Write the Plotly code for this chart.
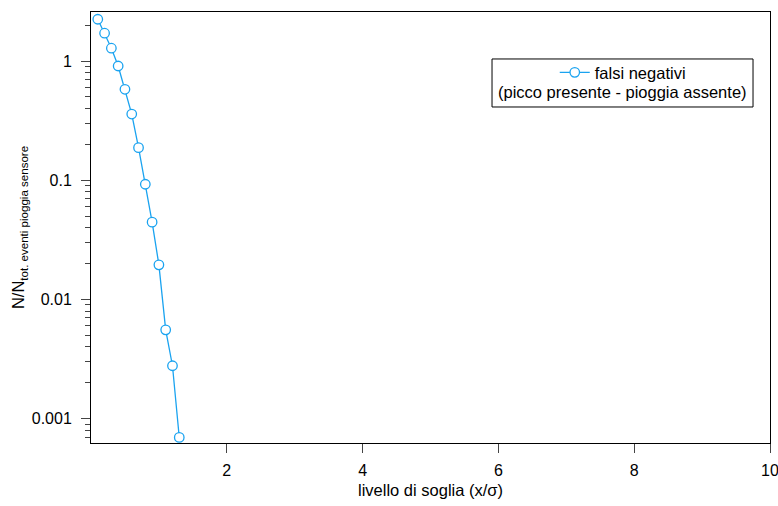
import plotly.graph_objects as go

soglia = [0.1, 0.2, 0.3, 0.4, 0.5, 0.6, 0.7, 0.8, 0.9, 1.0, 1.1, 1.2, 1.3]
falsi_negativi = [2.24, 1.71, 1.28, 0.908, 0.579, 0.359, 0.1876, 0.0925, 0.0445, 0.0195, 0.00556, 0.00278, 0.000696]

y_tickvals = [0.001, 0.01, 0.1, 1]
y_ticktext = ["0.001", "0.01", "0.1", "1"]
x_tickvals = [2, 4, 6, 8, 10]

minor_vals = [k * 10.0 ** e for e in range(-4, 1) for k in range(2, 10)]

blue = "#1aa3f0"
FONT = "Liberation Sans, Arial, sans-serif"

fig = go.Figure()
fig.add_trace(go.Scatter(
    x=soglia, y=falsi_negativi, mode="lines+markers",
    name="falsi negativi",
    line=dict(color=blue, width=1.3),
    marker=dict(symbol="circle", size=9.5, color="white", line=dict(color=blue, width=1.3)),
))

fig.update_layout(
    width=778, height=506,
    margin=dict(l=91, r=8, t=12, b=63),
    paper_bgcolor="white", plot_bgcolor="white",
    font=dict(family=FONT, size=16.5, color="black"),
    showlegend=True,
    legend=dict(x=0.683, y=0.900, xanchor="left", yanchor="top",
                bgcolor="rgba(0,0,0,0)", borderwidth=0,
                font=dict(size=16.5)),
    shapes=[dict(type="rect", xref="paper", yref="paper",
                 x0=0.5906, x1=0.975, y0=0.7796, y1=0.891,
                 line=dict(color="black", width=1), fillcolor="rgba(0,0,0,0)")],
    annotations=[dict(text="(picco presente - pioggia assente)", xref="paper", yref="paper",
                      x=0.783, y=0.814, xanchor="center", yanchor="middle",
                      showarrow=False, font=dict(size=16.5))],
)

fig.update_xaxes(
    range=[0, 10], tickvals=x_tickvals, ticks="outside", ticklen=9, tickwidth=1,
    showline=True, linecolor="black", linewidth=1, mirror=True, automargin=False,
    showgrid=False, zeroline=False, tickfont=dict(size=16),
    ticklabeloverflow="allow", ticklabelstandoff=4,
    title=dict(text="livello di soglia (x/σ)", font=dict(size=16.5), standoff=6),
)
fig.update_yaxes(
    type="log", range=[-3.204, 0.411], tickvals=y_tickvals, ticktext=y_ticktext,
    ticks="outside", ticklen=9, tickwidth=1,
    minor=dict(tickvals=minor_vals, ticks="outside", ticklen=5, tickwidth=1, showgrid=False),
    showline=True, linecolor="black", linewidth=1, mirror=True, automargin=False,
    showgrid=False, zeroline=False, tickfont=dict(size=16),
    ticklabelstandoff=6,
    title=dict(text="N/N<sub>tot. eventi pioggia sensore</sub>", font=dict(size=16.5), standoff=2),
)

fig.write_html("out.html", config={"displayModeBar": False},
               post_script="document.body.style.margin='0px';")
